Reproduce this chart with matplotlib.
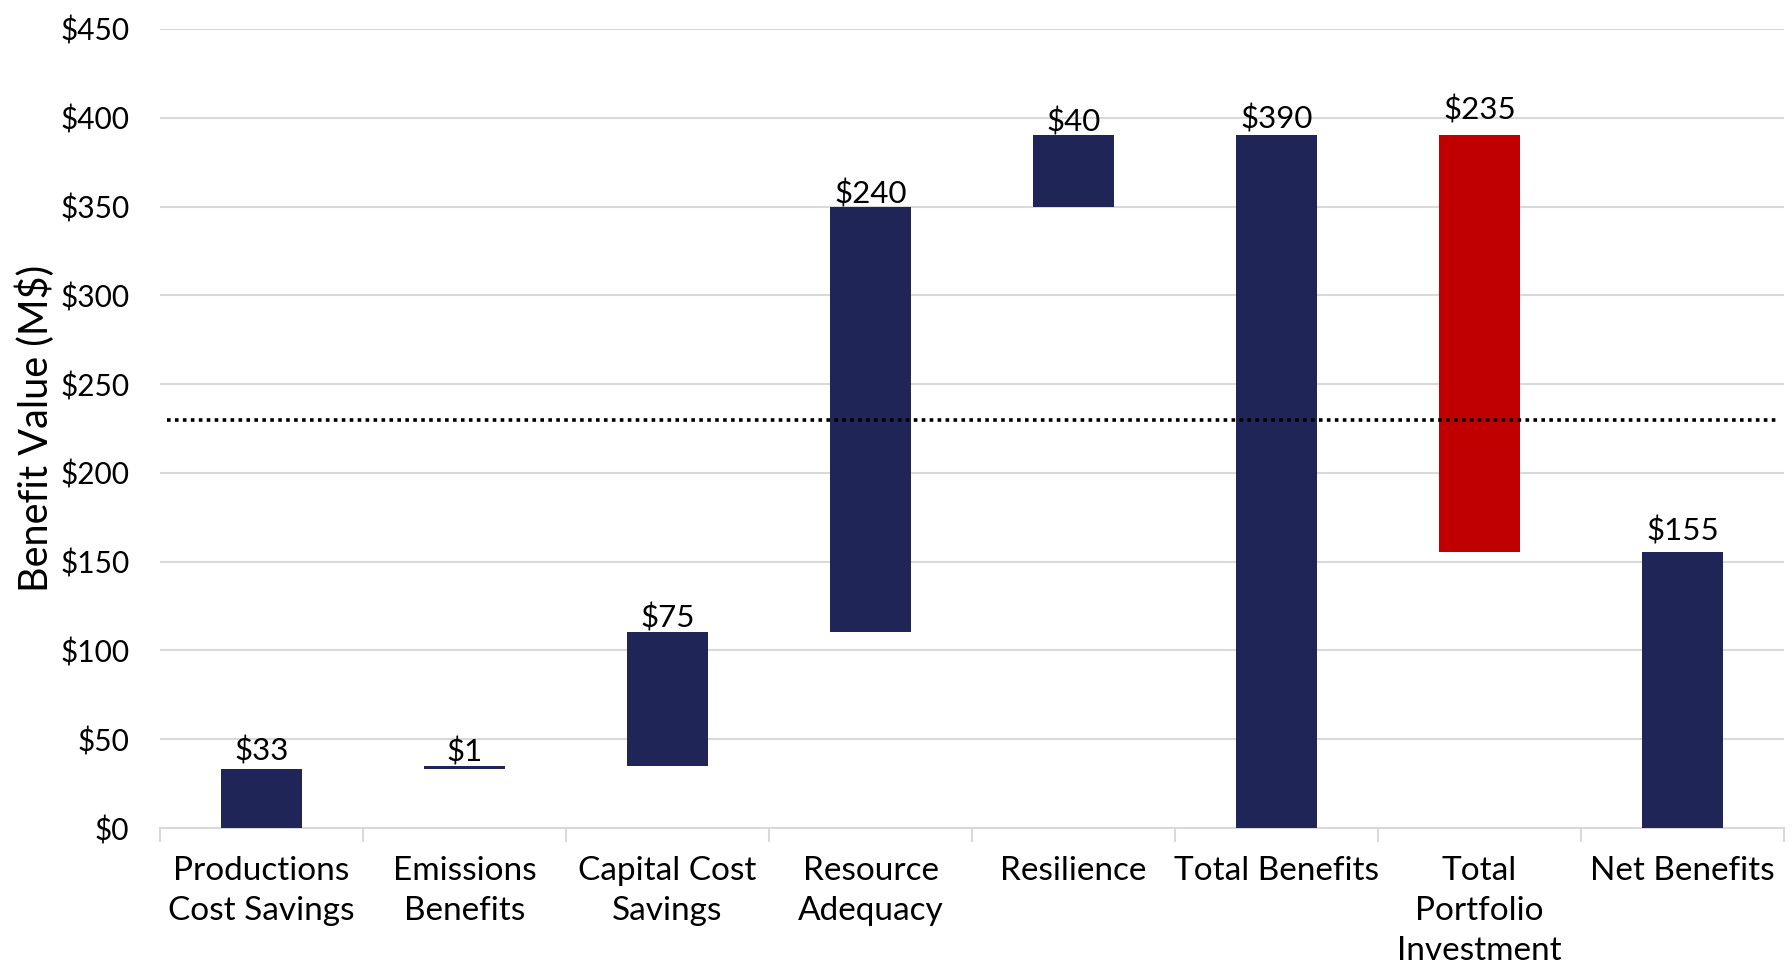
import matplotlib
matplotlib.use("Agg")
import matplotlib.pyplot as plt
import numpy as np

plt.rcParams["font.family"] = ["Lato", "DejaVu Sans"]

# ---------- data ----------
categories = ["Productions\nCost Savings", "Emissions\nBenefits", "Capital Cost\nSavings",
              "Resource\nAdequacy", "Resilience", "Total Benefits",
              "Total\nPortfolio\nInvestment", "Net Benefits"]
benefit_steps = [33.4, 1.4, 75.4, 239.6, 40.4]   # M$, stacked in order
portfolio_investment = 235.0
breakeven_level = 230.0

NAVY = "#1F2657"
RED = "#C00000"
GRID = "#D9D9D9"

# waterfall geometry from the values
starts = np.concatenate([[0.0], np.cumsum(benefit_steps)[:-1]])
total_benefits = float(np.sum(benefit_steps))
net_benefits = total_benefits - portfolio_investment

bottoms = list(starts) + [0.0, net_benefits, 0.0]
heights = list(benefit_steps) + [total_benefits, portfolio_investment, net_benefits]
labels = [v for v in benefit_steps] + [total_benefits, portfolio_investment, net_benefits]
colors = [NAVY] * 6 + [RED, NAVY]

fig = plt.figure(figsize=(17.92, 9.66), dpi=100)
ax = fig.add_axes([160 / 1792, 1 - 828 / 966, (1784 - 160) / 1792, (828 - 29) / 966])

x = np.arange(len(categories))
ax.bar(x, heights, bottom=bottoms, width=0.40, color=colors, zorder=3)

# value labels just above each bar
label_offsets = [2, 0, 0, -1, -1, 1, 8, 5]
for xi, b, h, v, off in zip(x, bottoms, heights, labels, label_offsets):
    ax.annotate(f"${v:.0f}", xy=(xi, b + h), xytext=(0, off), textcoords="offset points",
                ha="center", va="bottom", fontsize=22.5, color="black", zorder=4)

# dotted reference level
ax.plot([-0.466, 7.47], [breakeven_level, breakeven_level], color="black",
        linestyle=(0, (1, 1.2)), linewidth=2.6, zorder=5)

ax.set_xlim(-0.5, len(categories) - 0.5)
ax.set_ylim(0, 450)
ax.set_yticks(np.arange(0, 451, 50))
ax.set_yticklabels([f"${t}" for t in range(0, 451, 50)], fontsize=21.5)
ax.yaxis.grid(True, color=GRID, linewidth=1.5, zorder=0)
ax.tick_params(axis="y", length=0, pad=22)

# category labels between separator ticks
ax.set_xticks(x)
ax.set_xticklabels(categories, fontsize=24, linespacing=1.42)
ax.tick_params(axis="x", length=0, pad=20)
ax.set_xticks(np.arange(-0.5, len(categories)), minor=True)
ax.tick_params(axis="x", which="minor", length=10, width=1.5, color=GRID)

for side in ["top", "right", "left"]:
    ax.spines[side].set_visible(False)
ax.spines["bottom"].set_color(GRID)
ax.spines["bottom"].set_linewidth(1.5)

ax.set_ylabel("Benefit Value (M$)", fontsize=28.5, labelpad=4)

fig.savefig("out.png", dpi=100)
